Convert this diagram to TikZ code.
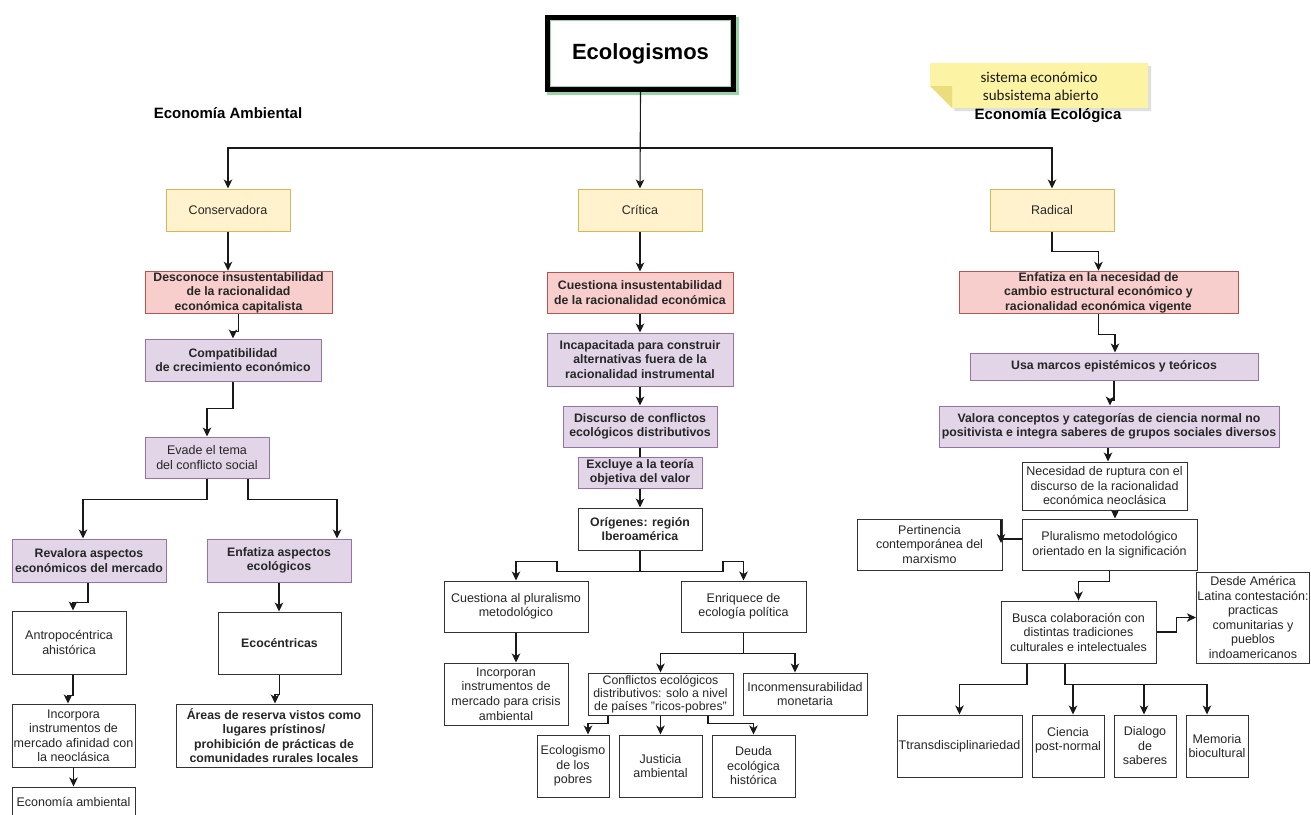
\documentclass[tikz,border=0pt]{standalone}
\usepackage{fontspec}
\usepackage{graphicx}
\setmainfont{Liberation Sans}
\newfontfamily\notefont{Carlito}
\usetikzlibrary{arrows.meta}
\definecolor{ylwfill}{HTML}{FFF2CC}
\definecolor{ylwline}{HTML}{D6B656}
\definecolor{pnkfill}{HTML}{F8CECC}
\definecolor{pnkline}{HTML}{B85450}
\definecolor{lavfill}{HTML}{E1D5E7}
\definecolor{lavline}{HTML}{9673A6}
\definecolor{boxline}{HTML}{333333}
\definecolor{txt}{HTML}{262626}
\definecolor{notefill}{HTML}{FCF3A4}
\definecolor{notefold}{HTML}{EBDD7E}
\definecolor{glow}{HTML}{9AD3A8}
\begin{document}
\begin{tikzpicture}[x=1pt,y=-1pt,
  basebox/.style={rectangle, inner sep=1pt, align=center, line width=1pt,
    text=txt, font=\fontsize{12.5}{14.5}\selectfont},
  bf/.style={font=\fontsize{12.3}{14.5}\selectfont\bfseries},
  sz/.style 2 args={minimum width=#1, minimum height=#2},
  ybox/.style={basebox, fill=ylwfill, draw=ylwline},
  pbox/.style={basebox, bf, fill=pnkfill, draw=pnkline},
  lbox/.style={basebox, bf, fill=lavfill, draw=lavline},
  wbox/.style={basebox, fill=white, draw=boxline},
  arr/.style={draw=black!90, line width=1.1pt, -{Stealth[length=9pt,width=8.5pt,inset=2.5pt]}},
  ln/.style={draw=black!90, line width=1.1pt},
  heading/.style={font=\fontsize{15}{18}\selectfont\bfseries, text=black}
]
\clip (0,0) rectangle (1311,814);
\fill[white] (0,0) rectangle (1311,814);

% ---- title ----
\fill[glow] (547,17) rectangle (738.5,94.5);
\node[draw=black, line width=5pt, fill=white, sz={186}{72},
  font=\fontsize{22}{26}\selectfont\bfseries, text=black] (eco) at (640.5,53.5) {Ecologismos};
\draw[glow, line width=0.7pt] (550.4,20.4) rectangle (730.6,86.6);

% ---- headings ----
\node[heading] (ambLbl) at (228,113) {Economía Ambiental};

% sticky note
\fill[gray!25] (933,66) -- (1151,66) -- (1151,111) -- (955,111) -- cycle;
\fill[notefill] (930,63) -- (1148,63) -- (1148,108) -- (952,108) -- (930,86) -- cycle;
\fill[notefold] (930,86) -- (952,86) -- (952,108) -- cycle;
\node[font=\notefont\fontsize{15}{18}\selectfont, text=black!90, align=center]
  (note) at (1039,86) {sistema económico\\ \ subsistema abierto};
\node[heading] (ecoLbl) at (1048,116) {Economía Ecológica};

% ---- level 1 ----
\node[ybox, sz={124}{42}] (cons) at (228,210) {Conservadora};
\node[ybox, sz={124}{42}] (crit) at (640,210) {Crítica};
\node[ybox, sz={124}{42}] (rad)  at (1052,210) {Radical};

\coordinate (hub) at (640,148);
\draw[arr] (eco.south) -- (crit.north);
\draw[arr] (hub) -| (cons.north);
\draw[arr] (hub) -| (rad.north);

% ---- left branch: conservadora ----
\node[pbox, sz={187}{41}] (desc) at (238.5,292.5)
  {Desconoce insustentabilidad\\de la racionalidad\\económica capitalista};
\node[lbox, sz={176}{42}] (compat) at (233,360)
  {Compatibilidad\\de crecimiento económico};
\node[basebox, fill=lavfill, draw=lavline, sz={124}{41}] (evade) at (207,457.5)
  {Evade el tema\\del conflicto social};
\node[lbox, sz={154}{43}] (reval) at (89,560.5)
  {Revalora aspectos\\económicos del mercado};
\node[lbox, sz={144}{43}] (enfasp) at (279,560.5)
  {Enfatiza aspectos\\ecológicos};
\node[wbox, sz={114}{63}] (antro) at (69,642.5) {Antropocéntrica\\ahistórica};
\node[wbox, bf, sz={123}{62}] (ecoc) at (279.5,643) {Ecocéntricas};
\node[wbox, sz={123}{63}] (incorp) at (73.5,735.5)
  {Incorpora\\instrumentos de\\mercado afinidad con\\la neoclásica};
\node[wbox, bf, sz={196}{63}] (areas) at (274,735.5)
  {Áreas de reserva vistos como\\lugares prístinos/\\prohibición de prácticas de\\comunidades rurales locales};
\node[wbox, sz={123}{30}] (ecamb) at (73.5,802) {Economía ambiental};

\draw[arr] (cons.south) -- (cons.south |- desc.north);
\draw[arr] (desc.south) -- ++(0,17) -| (compat.north);
\draw[arr] (compat.south) -- ++(0,27) -| (evade.north);
\draw[arr] (evade.south) -- ++(0,21) -| ([xshift=-6pt]reval.north);
\draw[arr] ([xshift=41pt]evade.south) -- ++(0,21) -| ([xshift=58pt]enfasp.north);
\draw[arr] ([xshift=-1pt]reval.south) -- ++(0,20) -| ([xshift=4pt]antro.north);
\draw[arr] ([xshift=4pt]antro.south) -- ++(0,21) -| ([xshift=-5.5pt]incorp.north);
\draw[arr] (incorp.south) -- (ecamb.north);
\draw[arr] (enfasp.south) -- (enfasp.south |- ecoc.north);
\draw[arr] (ecoc.south) -- ++(0,20) -| ([xshift=1pt]areas.north);

% ---- middle branch: critica ----
\node[pbox, sz={186}{41}] (cuest) at (640,292.5)
  {Cuestiona insustentabilidad\\de la racionalidad económica};
\node[lbox, sz={186}{53}] (incap) at (640,359.5)
  {Incapacitada para construir\\alternativas fuera de la\\racionalidad instrumental};
\node[lbox, sz={154}{41}] (disc) at (640,426.5)
  {Discurso de conflictos\\ecológicos distributivos};
\node[lbox, sz={124}{31}, font=\fontsize{12.3}{13.5}\selectfont\bfseries] (excl) at (640,472.5)
  {Excluye a la teoría\\objetiva del valor};
\node[wbox, bf, sz={124}{42}] (orig) at (640,529) {Orígenes: región\\Iberoamérica};
\node[wbox, sz={144}{51}] (cplur) at (516,606.5) {Cuestiona al pluralismo\\metodológico};
\node[wbox, sz={125}{51}] (enriq) at (743.5,606.5) {Enriquece de\\ecología política};
\node[wbox, sz={124}{62}] (incorpn) at (506,694)
  {Incorporan\\instrumentos de\\mercado para crisis\\ambiental};
\node[wbox, sz={145}{42}, font=\fontsize{12.3}{13.2}\selectfont] (confl) at (660.5,694)
  {Conflictos ecológicos\\distributivos: solo a nivel\\de países "ricos-pobres"};
\node[wbox, sz={124}{42}] (inconm) at (805,694) {Inconmensurabilidad\\monetaria};
\node[wbox, sz={72}{62}] (ecopob) at (573,766) {Ecologismo\\de los\\pobres};
\node[wbox, sz={83}{62}] (just) at (660.5,766) {Justicia\\ambiental};
\node[wbox, sz={83}{62}] (deuda) at (753.5,766) {Deuda\\ecológica\\histórica};

\draw[arr] (crit.south) -- (cuest.north);
\draw[arr] (cuest.south) -- (incap.north);
\draw[arr] (incap.south) -- (disc.north);
\draw[ln] (disc.south) -- (excl.north);
\draw[arr] (excl.south) -- (orig.north);
\draw[arr] (orig.south) -- ++(0,21) -- ++(-83,0) -- ++(0,-10) -| (cplur.north);
\draw[arr] (orig.south) -- ++(0,21) -- ++(83,0) -- ++(0,-10) -| (enriq.north);
\draw[arr] (cplur.south) -- (cplur.south |- incorpn.north);
\draw[arr] (enriq.south) -- ++(0,21) -| (confl.north);
\draw[arr] (enriq.south) -- ++(0,21) -| ([xshift=-10pt]inconm.north);
\draw[arr] ([xshift=-52.5pt]confl.south) -- ++(0,8) -| ([xshift=15pt]ecopob.north);
\draw[arr] (confl.south) -- (just.north);
\draw[arr] ([xshift=47.5pt]confl.south) -- ++(0,8) -| (deuda.north);

% ---- right branch: radical ----
\node[pbox, sz={279}{41}] (enf) at (1098.5,292.5)
  {Enfatiza en la necesidad de\\cambio estructural económico y\\racionalidad económica vigente};
\node[lbox, sz={288}{27}] (usa) at (1114,366.5) {Usa marcos epistémicos y teóricos};
\node[lbox, sz={340}{41}] (valora) at (1109,426.5)
  {Valora conceptos y categorías de ciencia normal no\\positivista e integra saberes de grupos sociales diversos};
\node[wbox, sz={165}{48}] (neces) at (1104.5,486)
  {Necesidad de ruptura con el\\discurso de la racionalidad\\económica neoclásica};
\node[wbox, sz={175}{51}] (plur) at (1109.5,544.5)
  {Pluralismo metodológico\\orientado en la significación};
\node[wbox, sz={145}{51}] (pert) at (929.5,544.5)
  {Pertinencia\\contemporánea del\\marxismo};
\node[wbox, sz={155}{62}] (busca) at (1078.5,632)
  {Busca colaboración con\\distintas tradiciones\\culturales e intelectuales};
\node[wbox, sz={112}{91}] (desde) at (1253,617.5)
  {Desde América\\Latina contestación:\\practicas\\comunitarias y\\pueblos\\indoamericanos};
\node[wbox, sz={125}{62}] (trans) at (959.5,746) {Ttransdisciplinariedad};
\node[wbox, sz={72}{62}] (cienc) at (1068,746) {Ciencia\\post-normal\\\mbox{}};
\node[wbox, sz={62}{62}] (dial) at (1145,746) {Dialogo\\de\\saberes};
\node[wbox, sz={62}{62}] (mem) at (1217,746) {Memoria\\biocultural};

\draw[arr] (rad.south) -- ++(0,20) -| (enf.north);
\draw[arr] (enf.south) -- ++(0,20) -| ([xshift=1pt]usa.north);
\draw[arr] (usa.south) -- ++(0,20) -| ([xshift=1pt]valora.north);
\draw[arr] ([xshift=-1pt]valora.south) -- ([xshift=-1pt]valora.south |- neces.north);
\draw[arr] ([xshift=10.5pt]neces.south) -- ([xshift=10.5pt]neces.south |- plur.north);
\coordinate (pertTop) at (1001,520);
\draw[arr] (pertTop) -- ++(0,23);
\draw[ln] ([yshift=5.5pt]plur.west) -- ++(-21,0);
\draw[arr] (plur.south) -- ++(0,11) -| (busca.north);
\draw[arr] (busca.east) -- ++(20,0) |- (desde.west);
\draw[arr] ([xshift=-51.5pt]busca.south) -- ++(0,21) -| (trans.north);
\draw[arr] ([xshift=-13.5pt]busca.south) -- ++(0,21) -| ([xshift=5pt]cienc.north);
\draw[arr] ([xshift=-13.5pt]busca.south) ++(0,21) -| ([xshift=-1pt]dial.north);
\draw[arr] ([xshift=-13.5pt]busca.south) ++(0,21) -| ([xshift=-10pt]mem.north);
\end{tikzpicture}
\end{document}
